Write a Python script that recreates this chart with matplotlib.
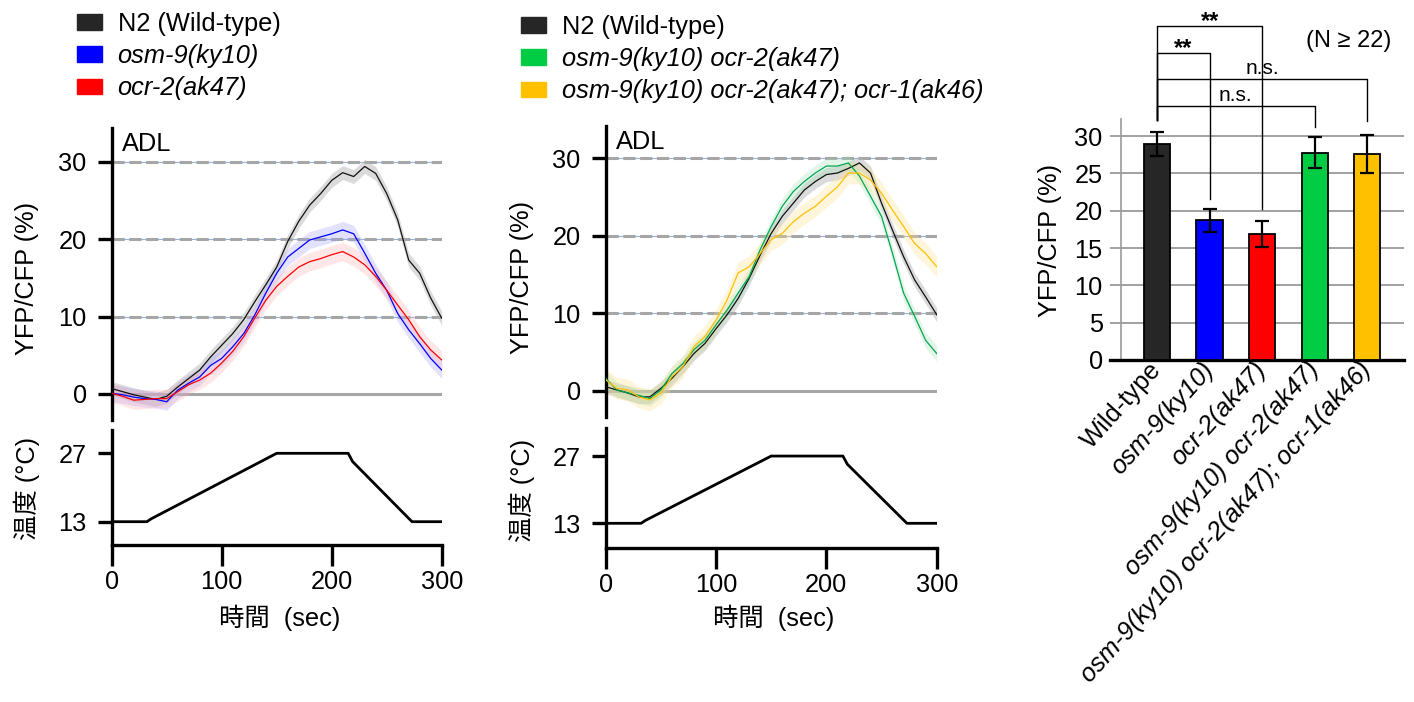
import numpy as np
import matplotlib.pyplot as plt
from matplotlib.patches import Patch

plt.rcParams['font.family'] = ['Liberation Sans', 'Noto Sans CJK JP']
plt.rcParams['font.size'] = 18.3

W, H = 1414, 702

# time axis of the calcium traces (sec)
t = [0, 10, 20, 30, 40, 50, 60, 70, 80, 90, 100, 110, 120, 130, 140, 150,
     160, 170, 180, 190, 200, 210, 220, 230, 240, 250, 260, 270, 280, 290, 300]

# left panel: YFP/CFP (%)
n2_a = [0.7, 0.3, -0.1, -0.4, -0.7, -0.3, 0.9, 2.0, 3.1, 4.8, 6.3, 7.8, 9.6, 11.9, 14.1, 16.4,
        19.7, 22.3, 24.4, 25.9, 27.6, 28.6, 28.1, 29.4, 28.5, 25.9, 22.5, 17.3, 15.6, 12.4, 9.8]
osm9 = [0.1, -0.1, -0.4, -0.6, -0.7, -1.0, 0.5, 1.4, 2.2, 3.7, 4.6, 6.1, 7.8, 10.2, 13.0, 15.6,
        17.7, 18.8, 19.9, 20.3, 20.7, 21.2, 20.7, 18.2, 15.6, 13.4, 10.4, 8.3, 6.5, 4.6, 3.1]
ocr2 = [0.1, -0.3, -0.8, -0.7, -0.6, -0.6, 0.3, 1.2, 1.8, 2.7, 4.0, 5.5, 7.4, 9.8, 12.1, 13.9,
        15.2, 16.4, 17.1, 17.5, 18.0, 18.4, 17.7, 16.7, 15.2, 13.4, 11.5, 9.6, 7.4, 5.7, 4.4]

# right panel: YFP/CFP (%)
n2_b = [0.5, 0.1, -0.3, -0.8, -0.8, 0.3, 1.6, 3.1, 4.8, 6.1, 8.0, 9.8, 11.9, 14.5, 17.5, 20.3,
        22.5, 24.2, 25.9, 27.0, 27.9, 28.1, 28.7, 29.4, 28.1, 24.2, 20.7, 17.3, 14.3, 12.1, 9.8]
double = [1.6, 0.1, -0.3, -0.6, -1.0, 0.1, 2.2, 3.5, 5.3, 6.5, 8.5, 10.4, 12.6, 14.7, 18.2, 21.2,
          23.8, 25.7, 27.0, 28.1, 29.0, 29.0, 29.4, 27.7, 25.1, 22.5, 17.7, 12.6, 9.6, 6.5, 4.8]
triple = [1.4, 0.3, 0.1, -0.8, -1.2, -0.3, 1.8, 3.1, 5.7, 7.0, 9.1, 11.7, 15.2, 16.0, 17.7, 19.5,
          20.3, 21.8, 22.9, 23.8, 25.1, 26.3, 28.1, 28.1, 27.2, 25.5, 23.3, 21.2, 19.0, 17.7, 16.0]

# s.e.m. band half-widths (%)
sem_n2, sem_osm9, sem_ocr2 = 0.9, 1.1, 1.2
sem_double, sem_triple = 1.0, 1.4

# temperature program
temp_t = [0, 32, 36, 150, 215, 219, 273, 300]
temp_c = [13, 13, 13.6, 27, 27, 25.3, 13, 13]

# bar chart
bar_labels = ['Wild-type', 'osm-9(ky10)', 'ocr-2(ak47)', 'osm-9(ky10) ocr-2(ak47)',
              'osm-9(ky10) ocr-2(ak47); ocr-1(ak46)']
bar_means = [29.0, 18.7, 16.9, 27.8, 27.6]
bar_err = [1.6, 1.55, 1.75, 2.05, 2.6]
bar_colors = ['#262626', '#0000ff', '#ff0000', '#00cc44', '#ffc000']


def fbox(x0, y0, x1, y1):
    # pixel box (top-left / bottom-right) -> figure fraction rect
    return [x0 / W, 1 - y1 / H, (x1 - x0) / W, (y1 - y0) / H]


def ftext(x, y, s, **kw):
    fig.text(x / W, 1 - y / H, s, **kw)


fig = plt.figure(figsize=(W / 100, H / 100), dpi=100)


def trace_axes(rect, ylim):
    ax = fig.add_axes(rect)
    ax.set_xlim(0, 300)
    ax.set_ylim(*ylim)
    for s in ['top', 'right', 'bottom']:
        ax.spines[s].set_visible(False)
    ax.spines['left'].set_linewidth(2.4)
    ax.set_xticks([])
    ax.set_yticks([0, 10, 20, 30])
    ax.tick_params(axis='y', length=10, width=2.4, pad=8)
    for g in [10, 20, 30]:
        ax.axhline(g, color='#8fb4e6', lw=0.8, zorder=1)
        ax.axhline(g, color='#a6a6a6', lw=2.2, ls=(0, (4, 1.5)), zorder=1)
    ax.axhline(0, color='#a6a6a6', lw=2.2, zorder=1)
    ax.text(0.03, 0.985, 'ADL', transform=ax.transAxes, va='top', ha='left')
    return ax


def temp_axes(rect, ylim):
    ax = fig.add_axes(rect)
    ax.plot(temp_t, temp_c, color='black', lw=2)
    ax.set_xlim(0, 300)
    ax.set_ylim(*ylim)
    for s in ['top', 'right']:
        ax.spines[s].set_visible(False)
    ax.spines['left'].set_linewidth(2.4)
    ax.spines['bottom'].set_linewidth(2.4)
    ax.set_yticks([13, 27])
    ax.set_xticks([0, 100, 200, 300])
    ax.tick_params(axis='y', length=10, width=2.4, pad=8)
    ax.tick_params(axis='x', length=15, width=2.4, pad=3)
    return ax


def band(ax, y, sem, line_c, band_c, alpha):
    y = np.asarray(y)
    ax.fill_between(t, y - sem, y + sem, color=band_c, alpha=alpha, lw=0, zorder=2)
    ax.plot(t, y, color=line_c, lw=0.9, zorder=3)


# ---- left panel
axL = trace_axes(fbox(111.7, 128, 441.7, 420), (-3.36, 34.37))
band(axL, n2_a, sem_n2, '#111111', '#b0b0b0', 0.45)
band(axL, osm9, sem_osm9, '#0000ff', '#a0a0ff', 0.3)
band(axL, ocr2, sem_ocr2, '#ff0000', '#ffb0b0', 0.3)
temp_axes(fbox(111.7, 430, 441.7, 545), (8.23, 31.77))

# ---- right panel
axR = trace_axes(fbox(605.7, 126, 936.7, 416.7), (-3.36, 34.17))
band(axR, n2_b, sem_n2, '#111111', '#b0b0b0', 0.45)
band(axR, double, sem_double, '#00a84f', '#9fe0b5', 0.3)
band(axR, triple, sem_triple, '#ffc000', '#ffe08a', 0.3)
temp_axes(fbox(605.7, 427.7, 936.7, 548.3), (7.8, 32.9))

# axis labels of the trace panels
for xl, xc, yt, yb in [(27, 280, 278, 488), (522, 774, 277, 490)]:
    ftext(xl, yt, 'YFP/CFP (%)', rotation=90, ha='center', va='center')
    ftext(xl, yb, '温度 (°C)', rotation=90, ha='center', va='center')
    ftext(xc, 618, '時間  (sec)', ha='center', va='center')

# legends
leg_kw = dict(frameon=False, loc='upper left', handlelength=1.0, handleheight=0.55,
              handletextpad=0.6, labelspacing=0.32, borderaxespad=0, borderpad=0)
lg1 = fig.legend([Patch(color='#262626'), Patch(color='#0000ff'), Patch(color='#ff0000')],
                 ['N2 (Wild-type)', 'osm-9(ky10)', 'ocr-2(ak47)'],
                 bbox_to_anchor=(77 / W, 1 - 12 / H), **leg_kw)
lg2 = fig.legend([Patch(color='#262626'), Patch(color='#00cc44'), Patch(color='#ffc000')],
                 ['N2 (Wild-type)', 'osm-9(ky10) ocr-2(ak47)', 'osm-9(ky10) ocr-2(ak47); ocr-1(ak46)'],
                 bbox_to_anchor=(521 / W, 1 - 15 / H), **leg_kw)
for lg in (lg1, lg2):
    for txt in lg.get_texts()[1:]:
        txt.set_fontstyle('italic')

# ---- bar chart
axB = fig.add_axes(fbox(1110, 119, 1404, 360))
x = np.arange(len(bar_means))
axB.bar(x, bar_means, width=0.5, color=bar_colors, edgecolor='black', lw=1.3, zorder=3)
axB.errorbar(x, bar_means, yerr=bar_err, fmt='none', ecolor='black', elinewidth=1.6,
             capsize=5, capthick=1.6, zorder=4)
axB.set_xlim(-0.895, 4.7)
axB.set_ylim(0, 32.3)
axB.set_yticks(np.arange(0, 31, 5))
axB.yaxis.grid(True, color='#9a9a9a', lw=1.3)
axB.set_axisbelow(True)
for s in ['top', 'right']:
    axB.spines[s].set_visible(False)
axB.spines['left'].set_position(('data', -0.69))
axB.spines['left'].set_color('#9a9a9a')
axB.spines['left'].set_linewidth(1.2)
axB.spines['bottom'].set_linewidth(2.4)
axB.tick_params(axis='y', length=0, pad=13)
axB.tick_params(axis='x', length=0, pad=4)
axB.set_xticks(x)
axB.set_xticklabels(bar_labels, rotation=48, ha='right', va='center', rotation_mode='anchor')
for i, lab in enumerate(axB.get_xticklabels()):
    if i > 0:
        lab.set_fontstyle('italic')
ftext(1050, 240, 'YFP/CFP (%)', rotation=90, ha='center', va='center')

# significance brackets (data coords above the axes)
brackets = [(2, 44.7, 20.2, '**'), (1, 41.1, 21.6, '**'),
            (4, 37.6, 32.0, 'n.s.'), (3, 34.0, 31.2, 'n.s.')]
for j, ytop, ydrop, lab in brackets:
    axB.plot([0, 0, j, j], [32.1, ytop, ytop, ydrop], color='black', lw=1.0, clip_on=False)
    if lab == 'n.s.':
        axB.text(j / 2, ytop + 0.2, lab, ha='center', va='bottom', fontsize=15, clip_on=False)
    else:
        axB.text(j / 2, ytop - 0.9, lab, ha='center', va='bottom', fontsize=17,
                 fontweight='bold', clip_on=False)
axB.text(3.64, 42.8, '(N ≥ 22)', ha='center', va='center', fontsize=17)

fig.savefig('out.png', dpi=100)
